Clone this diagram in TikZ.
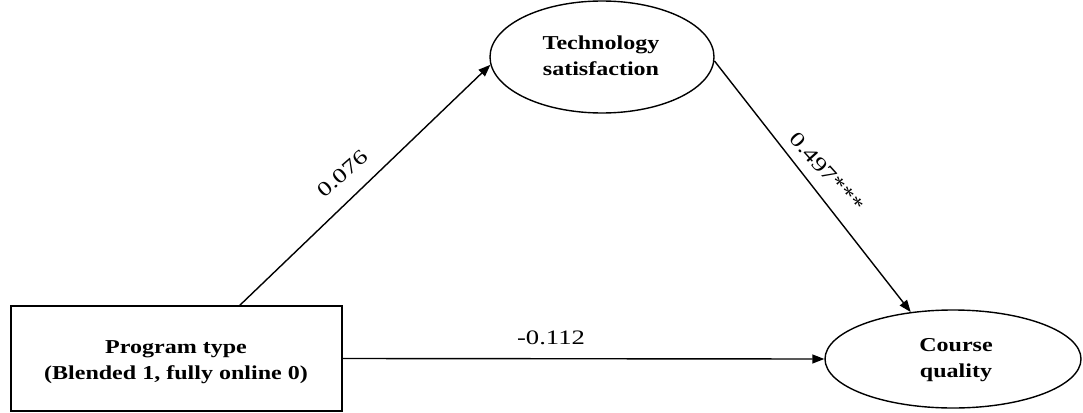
\documentclass[tikz,border=0pt]{standalone}
\usepackage{fontspec}
\setmainfont{Liberation Serif}
\newfontfamily\boldtxt[FakeStretch=1.22]{Liberation Serif Bold}
\newfontfamily\regtxt[FakeStretch=1.3]{Liberation Serif}
\usetikzlibrary{shapes.geometric,arrows.meta}
\tikzset{
  shapeline/.style={draw=black, line width=1.4pt, inner sep=0pt},
  boxnode/.style={shapeline, rectangle, minimum width=331pt, minimum height=105pt},
  ellnode/.style={shapeline, ellipse},
  nametext/.style={align=center, font=\boldtxt\fontsize{19.7pt}{26pt}\selectfont, inner sep=0pt},
  coef/.style={font=\regtxt\fontsize{20.5pt}{24pt}\selectfont, inner sep=0pt},
  path/.style={draw=black, line width=1.4pt, -{Triangle[length=12pt,width=9pt]}}
}
\begin{document}
\begin{tikzpicture}[x=1pt,y=-1pt]
\useasboundingbox (0,0) rectangle (1083,412);
% shapes
\node[boxnode] (prog) at (176.5,358.5) {};
\node[ellnode, minimum width=224pt, minimum height=112pt] (tech) at (602,57) {};
\node[ellnode, minimum width=256pt, minimum height=98pt] (course) at (953,359) {};
% texts
\node[nametext] (progtxt) at (176,362) {Program type\\(Blended 1, fully online 0)};
\node[nametext] (techtxt) at (601,56) {Technology\\satisfaction};
\node[nametext] (coursetxt) at (956,360) {Course\\quality};
% connectors
\coordinate (progtop) at ([xshift=229.5pt]prog.north west);
\path[path] (progtop) -- (tech.184);
\path[path] (tech.-2) -- (course.132);
\path[path] (prog.east) -- (course.west);
% coefficients
\node[coef, rotate=41] (c1) at (343,173.5) {0.076};
\node[coef, rotate=-48] (c2) at (827,172) {0.497***};
\node[coef] (c3) at (551,338) {-0.112};
\end{tikzpicture}
\end{document}
